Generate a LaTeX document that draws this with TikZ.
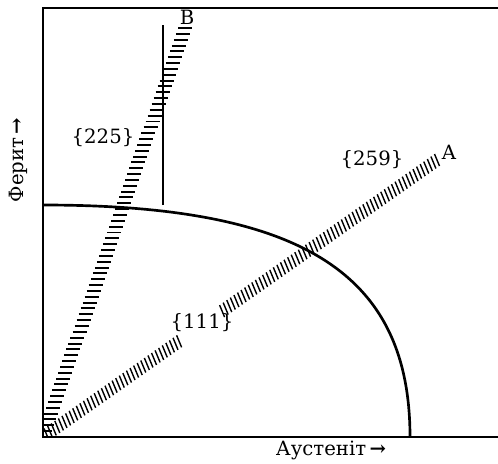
\documentclass[tikz,border=0pt]{standalone}
\usepackage{fontspec}
\setmainfont{DejaVu Serif}
\usetikzlibrary{calc}

\begin{document}
\begin{tikzpicture}[x=0.025cm, y=0.025cm,
    axis/.style={line width=1.7pt},
    curve/.style={line width=1.9pt},
    hatch/.style={line width=1.4pt},
    lbl/.style={font=\fontsize{14}{16}\selectfont, inner sep=1pt}]
  \useasboundingbox (-43,-26) rectangle (455,437);
  \coordinate (O) at (0,0);
  \coordinate (A) at (394,277);
  \coordinate (B) at (142,409);
  % frame
  \draw[axis] (455,0) -- (O) -- (0,429) -- (455,429);
  % hatched bands
  \begin{scope}
    \clip (0,0) rectangle (455,429);
    \foreach \i in {0,...,70}
      \draw[hatch] ($(O)!\i/70!(B)$) +(-7,0) -- +(7,0);
    \foreach \i in {0,...,38,50,51,...,110}
      \draw[hatch, line width=1pt] ($(O)!\i/110!(A)$) +(-2.5,6) -- +(2.5,-6);
  \end{scope}
  % boundary
  \draw[curve] (0,232) .. controls (257,232) and (367,165) .. (367,0);
  \draw[curve] (120,232) -- (120,412);
  % labels
  \node[lbl] (lb) at (144,420) {B};
  \node[lbl] (la) at (406,285) {A};
  \node[lbl] (l225) at (60,299) {\{225\}};
  \node[lbl] (l259) at (329,277) {\{259\}};
  \node[lbl] (l111) at (159,114) {\{111\}};
  \node[lbl] (aus) at (288,-13) {Аустеніт\,{\bfseries →}};
  \node[lbl, rotate=90] (fer) at (-25,277) {Ферит\,{\bfseries →}};
\end{tikzpicture}
\end{document}
